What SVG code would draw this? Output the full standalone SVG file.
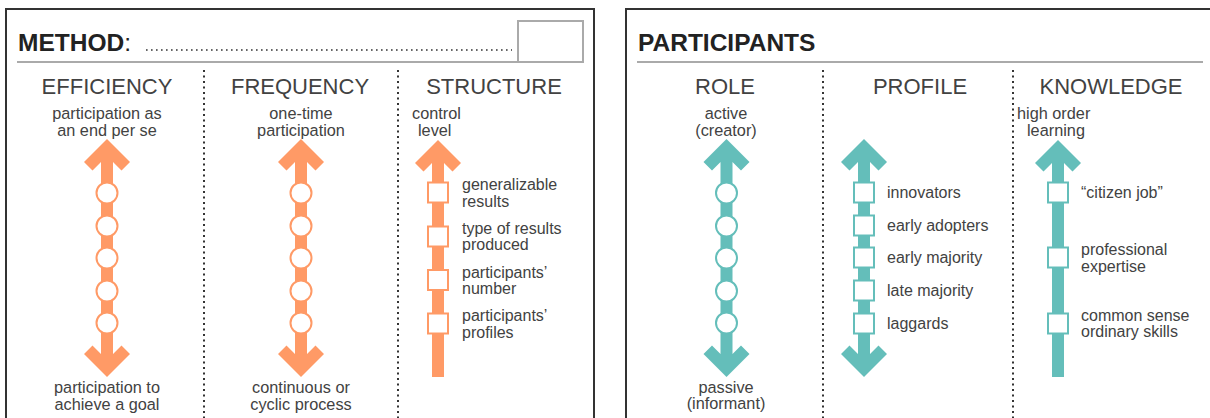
<svg xmlns="http://www.w3.org/2000/svg" xmlns:xlink="http://www.w3.org/1999/xlink" width="1210" height="418" viewBox="0 0 1210 418">
<style>
  text { font-family: "Liberation Sans", Arial, sans-serif; fill: #424242; }
  .title { font-size: 24.5px; font-weight: bold; fill: #222; }
  .head { font-size: 22px; }
  .sub { font-size: 16.3px; }
  .mid { text-anchor: middle; }
  .lab { font-size: 16px; }
  .panel { fill: none; stroke: #333; stroke-width: 2; }
  .hline { stroke: #aaa; stroke-width: 2; }
  .div { stroke: #333; stroke-width: 2; stroke-dasharray: 2 3.5; }
  .or { fill: #FF9A66; }
  .te { fill: #64BEBA; }
  .cor { fill: #fff; stroke: #FF9A66; stroke-width: 2; }
  .cte { fill: #fff; stroke: #64BEBA; stroke-width: 2; }
</style>
<defs>
  <path id="dbl" d="M0,139 L23,162 L14.5,170.5 L6,162 L6,354 L14.5,345.5 L23,354 L0,377 L-23,354 L-14.5,345.5 L-6,354 L-6,162 L-14.5,170.5 L-23,162 Z"/>
  <path id="up" d="M0,140 L23,163 L14.5,171.5 L6,163 L6,377 L-6,377 L-6,163 L-14.5,171.5 L-23,163 Z"/>
</defs>

<g id="method-panel">
  <path class="panel" d="M6,420 V9 H594 V420"/>
  <text class="title" x="18" y="51">METHOD<tspan style="font-weight:normal">:</tspan></text>
  <line x1="146" y1="50" x2="512" y2="50" stroke="#333" stroke-width="1.6" stroke-dasharray="1.6 3.4"/>
  <line class="hline" x1="17" y1="62" x2="518" y2="62"/>
  <rect x="518" y="21" width="65" height="41" fill="none" stroke="#aaa" stroke-width="2"/>
  <line class="div" x1="204" y1="70" x2="204" y2="418"/>
  <line class="div" x1="398" y1="70" x2="398" y2="418"/>
</g>

<g id="efficiency">
  <text class="head mid" x="107" y="94">EFFICIENCY</text>
  <text class="sub mid" x="107" y="119">participation as</text>
  <text class="sub mid" x="107" y="136">an end per se</text>
  <use xlink:href="#dbl" href="#dbl" class="or" transform="translate(107,0)"/>
  <circle class="cor" cx="107" cy="193" r="10.5"/>
  <circle class="cor" cx="107" cy="226" r="10.5"/>
  <circle class="cor" cx="107" cy="258" r="10.5"/>
  <circle class="cor" cx="107" cy="291" r="10.5"/>
  <circle class="cor" cx="107" cy="323" r="10.5"/>
  <text class="sub mid" x="107" y="393">participation to</text>
  <text class="sub mid" x="107" y="410">achieve a goal</text>
</g>

<g id="frequency">
  <text class="head mid" x="300" y="94">FREQUENCY</text>
  <text class="sub mid" x="301" y="119">one-time</text>
  <text class="sub mid" x="301" y="136">participation</text>
  <use xlink:href="#dbl" href="#dbl" class="or" transform="translate(301,0)"/>
  <circle class="cor" cx="301" cy="193" r="10.5"/>
  <circle class="cor" cx="301" cy="226" r="10.5"/>
  <circle class="cor" cx="301" cy="258" r="10.5"/>
  <circle class="cor" cx="301" cy="291" r="10.5"/>
  <circle class="cor" cx="301" cy="323" r="10.5"/>
  <text class="sub mid" x="301" y="393">continuous or</text>
  <text class="sub mid" x="301" y="410">cyclic process</text>
</g>

<g id="structure">
  <text class="head mid" x="494" y="94">STRUCTURE</text>
  <text class="sub" x="412" y="119">control</text>
  <text class="sub" x="418" y="136">level</text>
  <use xlink:href="#up" href="#up" class="or" transform="translate(438,0)"/>
  <rect class="cor" x="428" y="182.5" width="20" height="20"/>
  <rect class="cor" x="428" y="226.5" width="20" height="20"/>
  <rect class="cor" x="428" y="270" width="20" height="20"/>
  <rect class="cor" x="428" y="313.5" width="20" height="20"/>
  <text class="lab" x="462" y="190">generalizable</text>
  <text class="lab" x="462" y="206.5">results</text>
  <text class="lab" x="462" y="233.5">type of results</text>
  <text class="lab" x="462" y="250">produced</text>
  <text class="lab" x="462" y="277.5">participants’</text>
  <text class="lab" x="462" y="294">number</text>
  <text class="lab" x="462" y="321">participants’</text>
  <text class="lab" x="462" y="337.5">profiles</text>
</g>

<g id="participants-panel">
  <path class="panel" d="M626,420 V9 H1212"/>
  <text class="title" x="638" y="51">PARTICIPANTS</text>
  <line class="hline" x1="637" y1="62" x2="1203" y2="62"/>
  <line class="div" x1="823" y1="70" x2="823" y2="418"/>
  <line class="div" x1="1013" y1="70" x2="1013" y2="418"/>
</g>

<g id="role">
  <text class="head mid" x="725" y="94">ROLE</text>
  <text class="sub mid" x="726" y="119">active</text>
  <text class="sub mid" x="726" y="136">(creator)</text>
  <use xlink:href="#dbl" href="#dbl" class="te" transform="translate(726.5,0)"/>
  <circle class="cte" cx="726.5" cy="193" r="10.5"/>
  <circle class="cte" cx="726.5" cy="226" r="10.5"/>
  <circle class="cte" cx="726.5" cy="258" r="10.5"/>
  <circle class="cte" cx="726.5" cy="291" r="10.5"/>
  <circle class="cte" cx="726.5" cy="323" r="10.5"/>
  <text class="sub mid" x="726" y="393">passive</text>
  <text class="sub mid" x="726" y="409">(informant)</text>
</g>

<g id="profile">
  <text class="head mid" x="920" y="94">PROFILE</text>
  <use xlink:href="#dbl" href="#dbl" class="te" transform="translate(864,0)"/>
  <rect class="cte" x="854" y="182.5" width="20" height="20"/>
  <rect class="cte" x="854" y="215.5" width="20" height="20"/>
  <rect class="cte" x="854" y="247.5" width="20" height="20"/>
  <rect class="cte" x="854" y="280.5" width="20" height="20"/>
  <rect class="cte" x="854" y="313.5" width="20" height="20"/>
  <text class="lab" x="887" y="198">innovators</text>
  <text class="lab" x="887" y="231">early adopters</text>
  <text class="lab" x="887" y="263">early majority</text>
  <text class="lab" x="887" y="296">late majority</text>
  <text class="lab" x="887" y="329">laggards</text>
</g>

<g id="knowledge">
  <text class="head mid" x="1111" y="94">KNOWLEDGE</text>
  <text class="sub" x="1017" y="119">high order</text>
  <text class="sub" x="1027" y="136">learning</text>
  <use xlink:href="#up" href="#up" class="te" transform="translate(1058,0)"/>
  <rect class="cte" x="1048" y="182.5" width="20" height="20"/>
  <rect class="cte" x="1048" y="247.5" width="20" height="20"/>
  <rect class="cte" x="1048" y="313.5" width="20" height="20"/>
  <text class="lab" x="1081" y="198">“citizen job”</text>
  <text class="lab" x="1081" y="255">professional</text>
  <text class="lab" x="1081" y="271.5">expertise</text>
  <text class="lab" x="1081" y="320.5">common sense</text>
  <text class="lab" x="1081" y="337">ordinary skills</text>
</g>
</svg>
